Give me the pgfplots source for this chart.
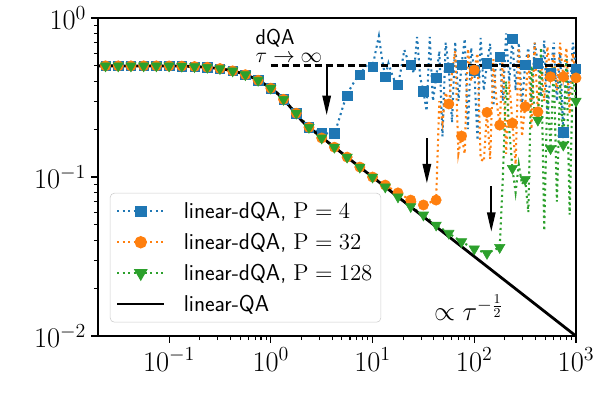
\documentclass[border=0pt]{standalone}
\usepackage{fix-cm}
\usepackage{pgfplots}
\pgfplotsset{compat=1.18}
\usetikzlibrary{arrows.meta}
\definecolor{tabblue}{HTML}{1F77B4}
\definecolor{taborange}{HTML}{FF7F0E}
\definecolor{tabgreen}{HTML}{2CA02C}
\tikzset{mpldot/.style={line width=1.5pt, dash pattern=on 1.5pt off 2.475pt}}
\pgfplotsset{mylegend/.style={legend image code/.code={\draw[mark repeat=2,mark phase=2,##1] plot coordinates {(0pt,0pt) (17pt,0pt) (34pt,0pt)};}}}
\begin{document}
\begin{tikzpicture}
\begin{axis}[
  scale only axis, width=344.2pt, height=229pt,
  xmode=log, ymode=log,
  xmin=0.02, xmax=1000, ymin=0.01, ymax=1,
  xtick={0.1,1,10,100,1000}, ytick={0.01,0.1,1},
  tick pos=left, tick align=outside,
  major tick length=5pt, minor tick length=3pt,
  every tick/.append style={line width=0.8pt, black},
  axis line style={line width=0.8pt},
  tick label style={font=\fontsize{20.5}{24}\selectfont},
  legend style={at={(axis description cs:0.025,0.45)}, anchor=north west,
    draw=black!20, rounded corners=3pt, fill=white,
    font=\sffamily\fontsize{16.5}{19}\selectfont,
    nodes={font=\sffamily\fontsize{16.5}{19}\selectfont, inner xsep=2pt, inner ysep=2pt},
    inner xsep=4pt, inner ysep=4.5pt, row sep=5pt,
    /tikz/every odd column/.append style={column sep=11pt}},
  legend cell align=left,
]
\coordinate (SW) at (rel axis cs:0,0);
\coordinate (NE) at (rel axis cs:1,1);

\addlegendimage{mylegend, tabblue, mpldot, mark=square*, mark size=3.4pt, mark options={solid}}
\addlegendentry{linear-dQA, $\mathrm{P}=4$}
\addlegendimage{mylegend, taborange, mpldot, mark=*, mark size=3.7pt, mark options={solid}}
\addlegendentry{linear-dQA, $\mathrm{P}=32$}
\addlegendimage{mylegend, tabgreen, mpldot, mark=triangle*, mark size=4.3pt, mark options={solid, rotate=180}}
\addlegendentry{linear-dQA, $\mathrm{P}=128$}
\addlegendimage{mylegend, black, line width=2pt}
\addlegendentry{linear-QA}

% P = 4 line
\addplot[tabblue, mpldot, forget plot] coordinates {
(0.02371,0.500) (0.03162,0.500) (0.04217,0.500) (0.05623,0.500) (0.07499,0.500) (0.1,0.4995) (0.1334,0.498) (0.1778,0.495) (0.2371,0.490) (0.3162,0.481) (0.4217,0.465) (0.5623,0.440) (0.7499,0.406) (1,0.362) (1.3335,0.308) (1.7783,0.252) (2.3714,0.2054) (3.1623,0.188)
(4.217,0.188) (4.5315,0.215) (4.8697,0.25) (5.233,0.29) (5.6234,0.325) (6.043,0.36) (6.494,0.39) (6.978,0.42) (7.499,0.44) (8.058,0.47) (8.660,0.50) (9.306,0.51)
(10,0.494) (10.746,0.62) (11.548,0.77) (12.409,0.55) (13.335,0.427) (14.330,0.52) (15.399,0.45) (16.548,0.40) (17.783,0.379) (19.110,0.48) (20.535,0.63) (22.067,0.55) (23.714,0.506) (25.483,0.45) (27.384,0.76) (29.427,0.42) (31.623,0.347) (33.982,0.26) (36.517,0.76) (39.241,0.30) (42.170,0.421) (45.315,0.62) (48.697,0.18) (52.330,0.70) (56.234,0.487) (60.430,0.22) (64.938,0.71) (69.783,0.30) (74.989,0.506) (80.584,0.74) (86.596,0.20) (93.057,0.65)
(100,0.47) (107.46,0.17) (115.48,0.75) (124.09,0.35) (133.35,0.519) (143.30,0.69) (153.99,0.28) (165.48,0.62) (177.83,0.571) (191.10,0.30) (205.35,0.80) (220.67,0.40) (237.14,0.738) (254.83,0.35) (273.84,0.70) (294.27,0.28) (316.23,0.506) (339.82,0.65) (365.17,0.30) (392.41,0.70) (421.70,0.519) (453.15,0.32) (486.97,0.72) (523.30,0.25) (562.34,0.45) (604.30,0.70) (649.38,0.30) (697.83,0.60) (749.89,0.191) (805.84,0.55) (865.96,0.30) (930.57,0.70) (1000,0.48)
};
\addplot[only marks, tabblue, mark=square*, mark size=3.4pt, forget plot] coordinates {
(0.02371,0.500) (0.03162,0.500) (0.04217,0.500) (0.05623,0.500) (0.07499,0.500) (0.1,0.4995) (0.1334,0.498) (0.1778,0.495) (0.2371,0.490) (0.3162,0.481) (0.4217,0.465) (0.5623,0.440) (0.7499,0.406) (1,0.362) (1.3335,0.308) (1.7783,0.252) (2.3714,0.2054) (3.1623,0.188) (4.217,0.188) (5.6234,0.325) (7.4989,0.44) (10,0.494) (13.335,0.427) (17.783,0.379) (23.714,0.506) (31.623,0.347) (42.17,0.421) (56.234,0.487) (74.989,0.506) (100,0.47) (133.35,0.519) (177.83,0.571) (237.14,0.738) (316.23,0.506) (421.7,0.519) (562.34,0.45) (749.89,0.191) (1000,0.48)
};

% P = 32 line
\addplot[taborange, mpldot, forget plot] coordinates {
(0.02371,0.500) (0.03162,0.500) (0.04217,0.500) (0.05623,0.500) (0.07499,0.500) (0.1,0.4995) (0.1334,0.498) (0.1778,0.495) (0.2371,0.490) (0.3162,0.481) (0.4217,0.465) (0.5623,0.440) (0.7499,0.406) (1,0.362) (1.3335,0.308) (1.7783,0.252) (2.3714,0.2054) (3.1623,0.176) (4.217,0.154) (5.6234,0.1334) (7.4989,0.1155) (10,0.1) (13.335,0.089) (17.783,0.0795) (23.714,0.0716) (31.623,0.0667)
(42.170,0.0716) (45.315,0.30) (48.697,0.22) (52.330,0.34) (56.234,0.288) (60.430,0.45) (64.938,0.62) (69.783,0.14) (74.989,0.181) (80.584,0.14) (86.596,0.64) (93.057,0.40)
(100,0.471) (107.46,0.60) (115.48,0.13) (124.09,0.125) (133.35,0.255) (143.30,0.13) (153.99,0.55) (165.48,0.30) (177.83,0.212) (191.10,0.60) (205.35,0.14) (220.67,0.40) (237.14,0.218) (254.83,0.12) (273.84,0.65) (294.27,0.18) (316.23,0.277) (339.82,0.60) (365.17,0.20) (392.41,0.70) (421.70,0.257) (453.15,0.55) (486.97,0.30) (523.30,0.66) (562.34,0.427) (604.30,0.60) (649.38,0.35) (697.83,0.70) (749.89,0.427) (805.84,0.65) (865.96,0.25) (930.57,0.60) (1000,0.42)
};
\addplot[only marks, taborange, mark=*, mark size=3.7pt, forget plot] coordinates {
(0.02371,0.500) (0.03162,0.500) (0.04217,0.500) (0.05623,0.500) (0.07499,0.500) (0.1,0.4995) (0.1334,0.498) (0.1778,0.495) (0.2371,0.490) (0.3162,0.481) (0.4217,0.465) (0.5623,0.440) (0.7499,0.406) (1,0.362) (1.3335,0.308) (1.7783,0.252) (2.3714,0.2054) (3.1623,0.176) (4.217,0.154) (5.6234,0.1334) (7.4989,0.1155) (10,0.1) (13.335,0.089) (17.783,0.0795) (23.714,0.0716) (31.623,0.0667) (42.17,0.0716) (56.234,0.288) (74.989,0.181) (100,0.471) (133.35,0.255) (177.83,0.212) (237.14,0.218) (316.23,0.277) (421.7,0.257) (562.34,0.427) (749.89,0.427) (1000,0.42)
};

% P = 128 line
\addplot[tabgreen, mpldot, forget plot] coordinates {
(0.02371,0.500) (0.03162,0.500) (0.04217,0.500) (0.05623,0.500) (0.07499,0.500) (0.1,0.4995) (0.1334,0.498) (0.1778,0.495) (0.2371,0.490) (0.3162,0.481) (0.4217,0.465) (0.5623,0.440) (0.7499,0.406) (1,0.362) (1.3335,0.308) (1.7783,0.252) (2.3714,0.2054) (3.1623,0.176) (4.217,0.154) (5.6234,0.1334) (7.4989,0.1155) (10,0.1) (13.335,0.0866) (17.783,0.075) (23.714,0.0652) (31.623,0.0577) (42.17,0.0499) (56.234,0.0443) (74.989,0.0392) (100,0.0353) (133.35,0.0331)
(177.83,0.0361) (191.10,0.10) (205.35,0.40) (220.67,0.20) (237.14,0.1134) (254.83,0.08) (273.84,0.12) (294.27,0.09) (316.23,0.0967) (339.82,0.06) (365.17,0.50) (392.41,0.25) (421.70,0.228) (453.15,0.65) (486.97,0.046) (523.30,0.35) (562.34,0.151) (604.30,0.50) (649.38,0.07) (697.83,0.40) (749.89,0.159) (805.84,0.55) (865.96,0.058) (930.57,0.45) (1000,0.30)
};
\addplot[only marks, tabgreen, mark=triangle*, mark size=4.3pt, mark options={rotate=180}, forget plot] coordinates {
(0.02371,0.500) (0.03162,0.500) (0.04217,0.500) (0.05623,0.500) (0.07499,0.500) (0.1,0.4995) (0.1334,0.498) (0.1778,0.495) (0.2371,0.490) (0.3162,0.481) (0.4217,0.465) (0.5623,0.440) (0.7499,0.406) (1,0.362) (1.3335,0.308) (1.7783,0.252) (2.3714,0.2054) (3.1623,0.176) (4.217,0.154) (5.6234,0.1334) (7.4989,0.1155) (10,0.1) (13.335,0.0866) (17.783,0.075) (23.714,0.0652) (31.623,0.0577) (42.17,0.0499) (56.234,0.0443) (74.989,0.0392) (100,0.0353) (133.35,0.0331) (177.83,0.0361) (237.14,0.1134) (316.23,0.0967) (421.7,0.228) (562.34,0.151) (749.89,0.159) (1000,0.30)
};

% dQA limit
\addplot[black, line width=2pt, dash pattern=on 5.5pt off 2.4pt, forget plot] coordinates {(1,0.5) (1000,0.5)};

% linear-QA
\addplot[black, line width=2pt, forget plot] coordinates {
(0.02,0.5) (0.1,0.4995) (0.15,0.497) (0.2,0.493) (0.25,0.488) (0.3,0.482) (0.35,0.476) (0.4,0.468) (0.5,0.452) (0.6,0.433) (0.7,0.416) (0.8,0.396) (0.9,0.378) (1.0,0.362) (1.15,0.338) (1.3,0.312) (1.5,0.283) (1.7,0.258) (2.0,0.227) (2.25,0.2108) (2.6,0.1961) (3.0,0.1826) (1000,0.01)
};

% arrows
\draw[-{Triangle[length=14pt,width=6pt]}, line width=1.4pt] (axis cs:3.54,0.5) -- (axis cs:3.54,0.245);
\draw[-{Triangle[length=14pt,width=6pt]}, line width=1.4pt] (axis cs:34.2,0.175) -- (axis cs:34.2,0.0912);
\draw[-{Triangle[length=14pt,width=6pt]}, line width=1.4pt] (axis cs:147,0.0878) -- (axis cs:147,0.0453);

% annotations
\node[anchor=base west, inner sep=0pt, font=\sffamily\fontsize{15.5}{18}\selectfont] at (axis cs:0.706,0.68) {dQA};
\node[anchor=base west, inner sep=0pt, font=\fontsize{15.5}{18}\selectfont] at (axis cs:0.706,0.525) {$\tau\to\infty$};
\node[anchor=base west, inner sep=0pt, font=\fontsize{19.5}{23}\selectfont] at (axis cs:40,0.0125) {$\propto\tau^{-\frac{1}{2}}$};

% axis labels
\node[font=\fontsize{20.5}{24}\selectfont] at (axis description cs:-0.143,0.654) {$\rho_{\mathrm{def}}$};
\node[font=\fontsize{20.5}{24}\selectfont] at (axis description cs:0.5,-0.154) {$\tau$};
\end{axis}
\pgfresetboundingbox
\path[use as bounding box] ([shift={(-70.56pt,-48.24pt)}]SW) rectangle ([shift={(18pt,12.96pt)}]NE);
\end{tikzpicture}
\end{document}
